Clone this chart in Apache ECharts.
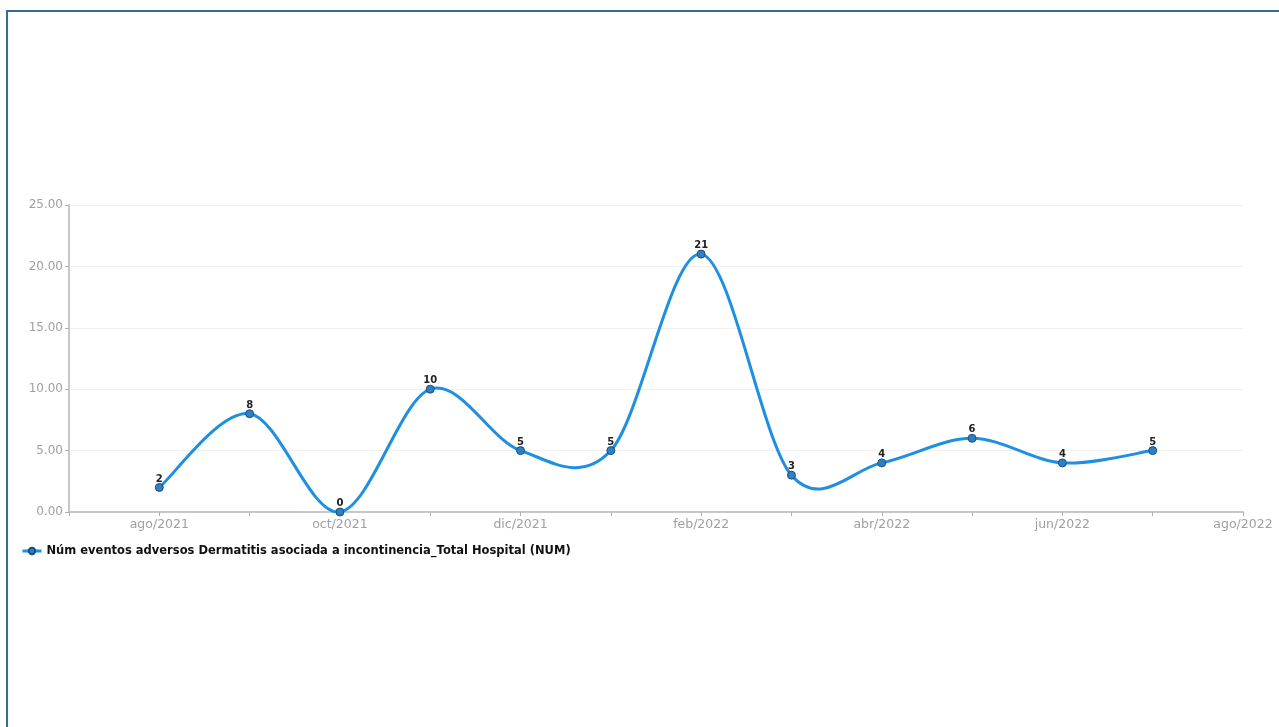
<!DOCTYPE html>
<html>
<head>
<meta charset="utf-8">
<script src="https://cdn.jsdelivr.net/npm/echarts@6/dist/echarts.min.js"></script>
<style>
html,body{margin:0;padding:0;background:#fff;overflow:hidden;}
#chart{position:absolute;left:0;top:0;width:1279px;height:727px;}
#frame{position:absolute;left:6px;top:10px;width:1300px;height:760px;border-left:2px solid #2f6f97;border-top:2px solid #2f6f97;pointer-events:none;}
</style>
</head>
<body>
<div id="chart"></div>
<div id="frame"></div>
<script>
const months = ['jul/2021','ago/2021','sep/2021','oct/2021','nov/2021','dic/2021','ene/2022','feb/2022','mar/2022','abr/2022','may/2022','jun/2022','jul/2022','ago/2022'];
const values = [null, 2, 8, 0, 10, 5, 5, 21, 3, 4, 6, 4, 5, null];
const seriesName = 'Núm eventos adversos Dermatitis asociada a incontinencia_Total Hospital (NUM)';
const yTicks = [0, 5, 10, 15, 20, 25];

const LINE_COLOR = '#1e8fe1';

// Catmull-Rom curve through the points, positioned via the chart's own scales (api.coord)
function renderCurve(params, api) {
  const pts = [];
  for (let i = 0; i < values.length; i++) {
    if (values[i] === null) continue;
    pts.push(api.coord([i, values[i]]));
  }
  const children = [];
  for (let i = 0; i < pts.length - 1; i++) {
    const p0 = pts[i - 1] || pts[i];
    const p1 = pts[i];
    const p2 = pts[i + 1];
    const p3 = pts[i + 2] || pts[i + 1];
    children.push({
      type: 'bezierCurve',
      shape: {
        x1: p1[0], y1: p1[1],
        cpx1: p1[0] + (p2[0] - p0[0]) / 6, cpy1: p1[1] + (p2[1] - p0[1]) / 6,
        cpx2: p2[0] - (p3[0] - p1[0]) / 6, cpy2: p2[1] - (p3[1] - p1[1]) / 6,
        x2: p2[0], y2: p2[1]
      },
      style: {stroke: LINE_COLOR, lineWidth: 3, fill: null, lineCap: 'round'}
    });
  }
  return {type: 'group', children: children};
}

const chart = echarts.init(document.getElementById('chart'), null, {renderer: 'canvas'});
chart.setOption({
  animation: false,
  backgroundColor: '#ffffff',
  grid: {left: 69, right: 36, top: 205, bottom: 215, containLabel: false},
  legend: {
    left: 16, top: 540,
    itemWidth: 19, itemHeight: 8,
    data: [{name: seriesName, lineStyle: {color: LINE_COLOR, width: 3, opacity: 1}}],
    textStyle: {fontFamily: 'DejaVu Sans', fontSize: 11.5, fontWeight: 'bold', color: '#111'}
  },
  xAxis: {
    type: 'category',
    data: months,
    boundaryGap: false,
    axisLine: {lineStyle: {color: '#c8c8c8', width: 2}},
    axisTick: {show: true, interval: 0, length: 4, lineStyle: {color: '#b0b0b0'}},
    axisLabel: {
      interval: function (i) { return i % 2 === 1; },
      color: '#a0a0a0', fontFamily: 'DejaVu Sans', fontSize: 12.5, margin: 6
    },
    splitLine: {show: false}
  },
  yAxis: {
    type: 'value',
    min: yTicks[0], max: yTicks[yTicks.length - 1], interval: 5,
    axisLine: {show: true, lineStyle: {color: '#c8c8c8', width: 2}},
    axisTick: {show: true, length: 4, lineStyle: {color: '#b0b0b0'}},
    axisLabel: {
      formatter: function (v) { return v.toFixed(2); },
      color: '#a0a0a0', fontFamily: 'DejaVu Sans', fontSize: 12, margin: 6
    },
    splitLine: {show: true, lineStyle: {color: '#f0f0f0', width: 1}}
  },
  series: [{
    name: 'curve',
    type: 'custom',
    data: [0],
    renderItem: renderCurve,
    silent: true,
    z: 1
  }, {
    name: seriesName,
    type: 'line',
    data: values,
    clip: false,
    symbol: 'circle',
    symbolSize: 8,
    showSymbol: true,
    lineStyle: {color: LINE_COLOR, width: 3, opacity: 0},
    itemStyle: {color: '#2f7fc4', borderColor: '#1d4f7c', borderWidth: 1},
    z: 3,
    label: {
      show: true, position: 'top', distance: -1,
      fontFamily: 'DejaVu Sans', fontSize: 10, fontWeight: 'bold', color: '#222'
    }
  }]
});
</script>
</body>
</html>
